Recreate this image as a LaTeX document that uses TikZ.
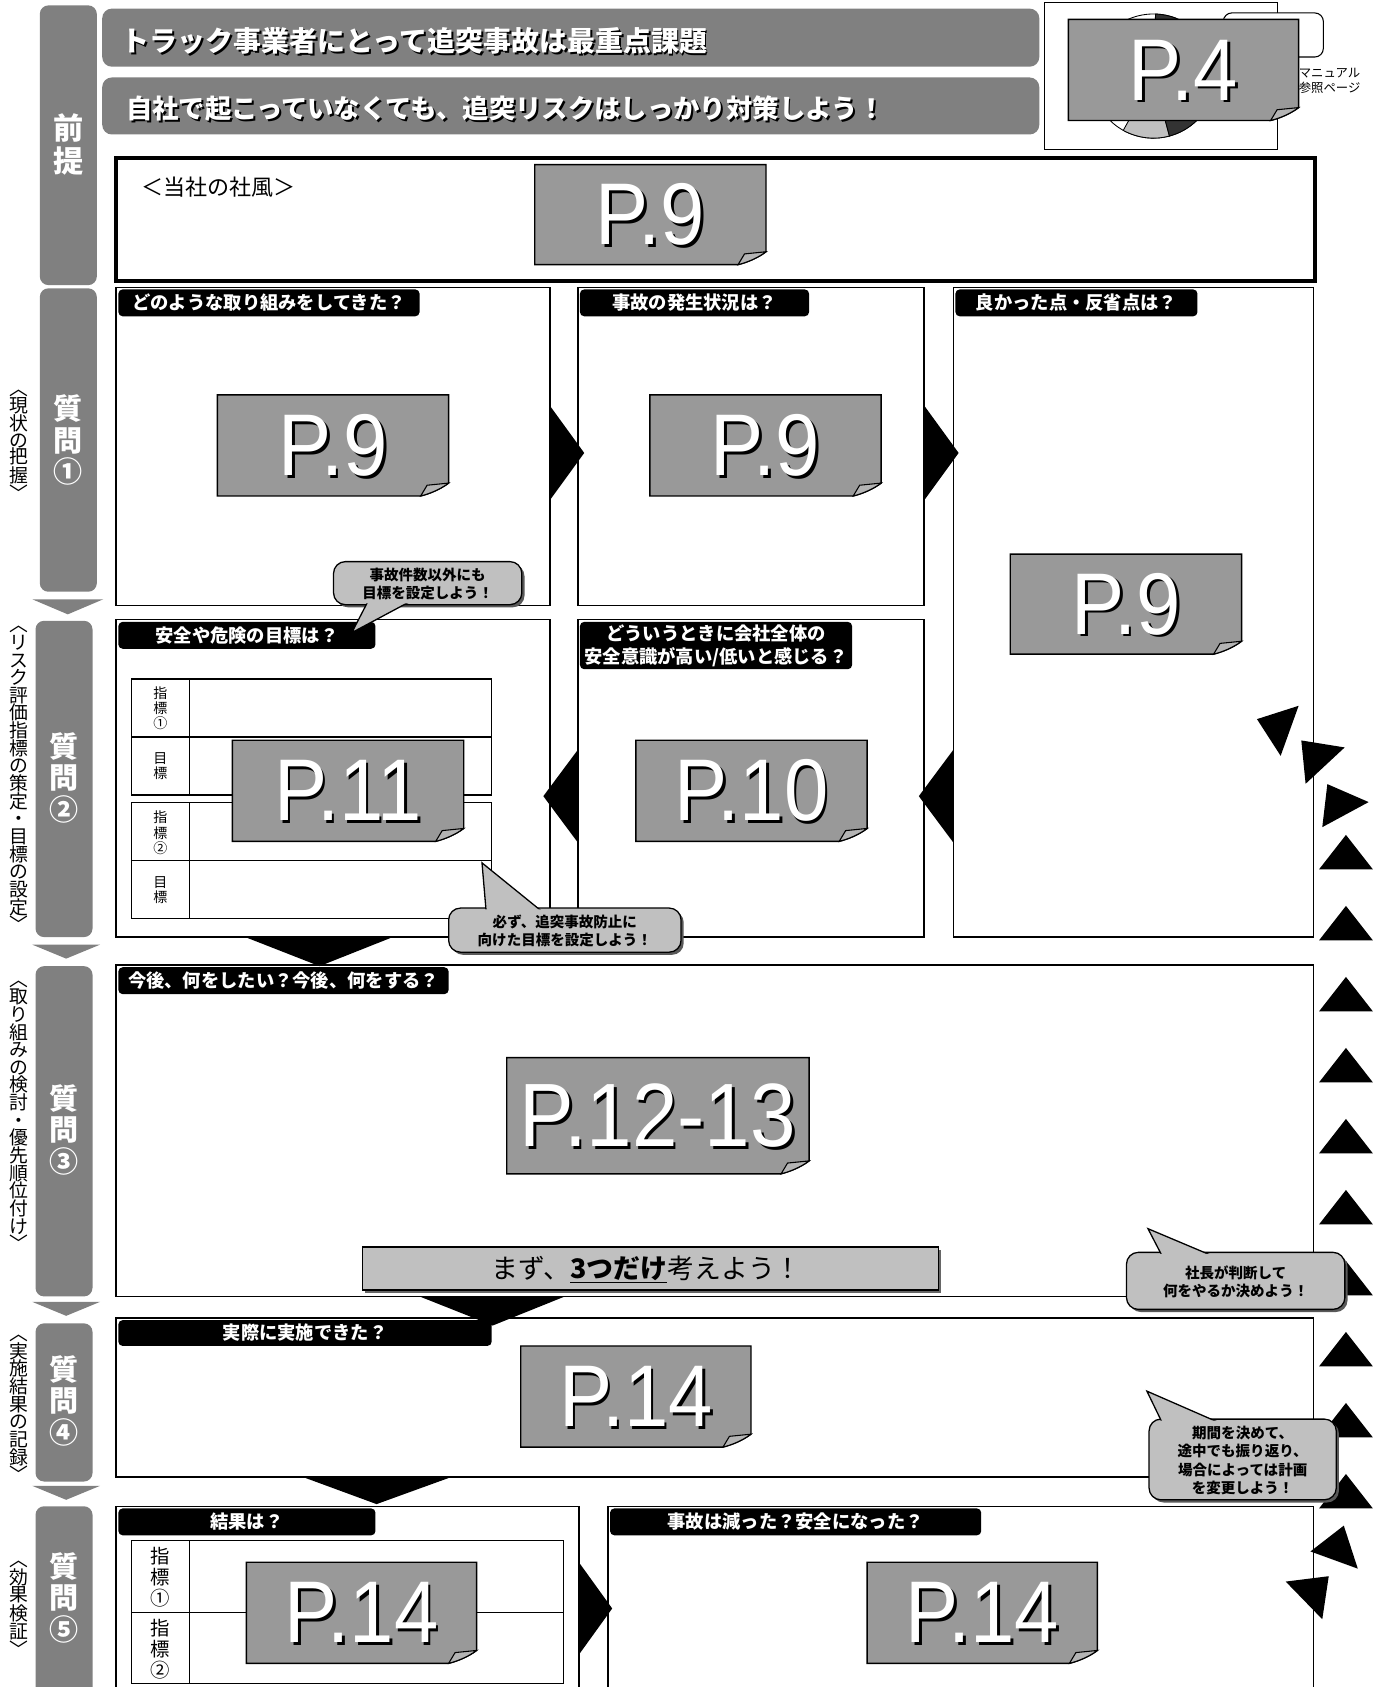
\documentclass[tikz,border=0pt]{standalone}
\usepackage{fontspec}
\setmainfont{Liberation Sans}
\newfontfamily\jp{Noto Sans CJK JP}
\usetikzlibrary{fit}
\definecolor{bargray}{HTML}{808080}
\definecolor{pgray}{HTML}{999999}
\definecolor{foldgray}{HTML}{B4B4B4}
\definecolor{cgray}{HTML}{C0C0C0}
\definecolor{piedark}{HTML}{333333}
\tikzset{
  secbox/.style={draw=black, line width=1.4, inner sep=0, outer sep=0},
  ptext/.style={text=white, inner sep=0, font=\fontsize{74}{74}\selectfont},
  tabtext/.style={text=white, inner sep=0, align=center, font=\jp\bfseries\fontsize{17}{21}\selectfont},
  calltext/.style={inner sep=0, align=center, font=\jp\bfseries\fontsize{13.5}{17}\selectfont},
  bartext/.style={text=white, inner sep=0, align=center, font=\jp\bfseries\fontsize{27}{29.5}\selectfont},
  sidetext/.style={inner sep=0, align=center, font=\jp\fontsize{17.5}{16.4}\selectfont},
  lbltext/.style={inner sep=0, align=center, font=\jp\fontsize{13}{14}\selectfont},
  bantext/.style={anchor=west, inner sep=0},
}
% P-note: name, x1, y1, x2, y2, text
\newcommand\mypnote[6]{%
  \filldraw[fill=pgray,draw=black,line width=1.3]
    (#2,#3) -- (#4,#3) -- ({#4},{#5-12})
    .. controls ({#4-8},{#5-6}) and ({#4-18},{#5-2}) .. ({#4-26},{#5})
    -- (#2,#5) -- cycle;
  \filldraw[fill=foldgray,draw=black,line width=1]
    ({#4-26},{#5}) .. controls ({#4-23},{#5-5}) .. ({#4-20},{#5-10})
    -- ({#4},{#5-12})
    .. controls ({#4-8},{#5-6}) and ({#4-18},{#5-2}) .. ({#4-26},{#5}) -- cycle;
  \node[ptext,text=black] at ({(#2+#4)/2+2.5},{(#3+#5)/2+2.5}) {\scalebox{1}[1.1]{#6}};
  \node[ptext] (#1) at ({(#2+#4)/2},{(#3+#5)/2}) {\scalebox{1}[1.1]{#6}};
}
% header tab: name, x1, y1, x2, y2, text
\newcommand\mytab[6]{%
  \fill[black, rounded corners=4] (#2,#3) rectangle (#4,#5);
  \node[tabtext] (#1) at ({(#2+#4)/2},{(#3+#5)/2}) {#6};
}
% callout: name, x1, y1, x2, y2, tip, base1, base2, text
\newcommand\mycallout[9]{%
  \fill[black!65, rounded corners=11] ({#2+2.5},{#3+2.5}) rectangle ({#4+2.5},{#5+2.5});
  \filldraw[fill=cgray, draw=black, line width=1.2, rounded corners=11] (#2,#3) rectangle (#4,#5);
  \filldraw[fill=cgray, draw=black, line width=1.2] #7 -- #6 -- #8;
  \fill[cgray, rounded corners=10] ({#2+1.3},{#3+1.3}) rectangle ({#4-1.3},{#5-1.3});
  \node[calltext] (#1) at ({(#2+#4)/2},{(#3+#5)/2+1}) {#9};
}
\begin{document}
\begin{tikzpicture}[x=1pt,y=-1pt]
\useasboundingbox (0,0) rectangle (1286,1568);
\clip (0,0) rectangle (1286,1568);
\fill[white] (0,0) rectangle (1286,1568);

% ---------- left column bars ----------
\fill[bargray, rounded corners=8] (37,5) rectangle (90,265);
\node[bartext, font=\jp\bfseries\fontsize{28}{31}\selectfont] (lb0) at (63.5,134.5) {前\\提};
\fill[bargray, rounded corners=8] (37,268) rectangle (90,550);
\node[bartext] (lb1) at (63.5,409) {質\\問\\①};
\fill[bargray, rounded corners=8] (33,577) rectangle (86,871);
\node[bartext] (lb2) at (59.5,723) {質\\問\\②};
\fill[bargray, rounded corners=8] (33,898) rectangle (86,1205);
\node[bartext] (lb3) at (59.5,1050) {質\\問\\③};
\fill[bargray, rounded corners=8] (33,1230) rectangle (86,1377);
\node[bartext] (lb4) at (59.5,1302) {質\\問\\④};
\fill[bargray, rounded corners=8] (33,1400) rectangle (86,1600);
\node[bartext] (lb5) at (59.5,1485) {質\\問\\⑤};

\fill[bargray] (30,557) -- (96,557) -- (63,571) -- cycle;
\fill[bargray] (30,878) -- (93,878) -- (61.5,891) -- cycle;
\fill[bargray] (30,1210) -- (93,1210) -- (61.5,1223) -- cycle;
\fill[bargray] (30,1381) -- (93,1381) -- (61.5,1394) -- cycle;

\node[sidetext, font=\jp\fontsize{17.5}{15.3}\selectfont] (s1) at (18,414) {︿\\現\\状\\の\\把\\握\\﹀};
\node[sidetext] (s2) at (18,724) {︿\\リ\\ス\\ク\\評\\価\\指\\標\\の\\策\\定\\・\\目\\標\\の\\設\\定\\﹀};
\node[sidetext] (s3) at (18,1037) {︿\\取\\り\\組\\み\\の\\検\\討\\・\\優\\先\\順\\位\\付\\け\\﹀};
\node[sidetext] (s4) at (18,1309) {︿\\実\\施\\結\\果\\の\\記\\録\\﹀};
\node[sidetext, font=\jp\fontsize{17.5}{15.3}\selectfont] (s5) at (18,1495) {︿\\効\\果\\検\\証\\﹀};

% ---------- top banners ----------
\fill[bargray, rounded corners=9] (95,8) rectangle (966,62);
\fill[bargray, rounded corners=9] (95,72) rectangle (966,125);
\node[bantext, text=black, font=\jp\bfseries\fontsize{26}{26}\selectfont] at (114.8,39.8) {トラック事業者にとって追突事故は最重点課題};
\node[bantext, text=white, font=\jp\bfseries\fontsize{26}{26}\selectfont] (ban1) at (113,38) {トラック事業者にとって追突事故は最重点課題};
\node[bantext, text=black, font=\jp\bfseries\fontsize{24.5}{24.5}\selectfont] at (118.8,102.8) {自社で起こっていなくても、追突リスクはしっかり対策しよう！};
\node[bantext, text=white, font=\jp\bfseries\fontsize{24.5}{24.5}\selectfont] (ban2) at (117,101) {自社で起こっていなくても、追突リスクはしっかり対策しよう！};

% ---------- top-right reference box ----------
\filldraw[fill=white, draw=black, line width=0.8] (971,2) rectangle (1187,139);
\filldraw[fill=white, draw=black, line width=0.8] (1072,70.7) circle[radius=57.7];
\filldraw[fill=cgray, draw=black, line width=0.8] (1072,70.7) -- ++(75:57.7) arc[start angle=75, end angle=119, radius=57.7] -- cycle;
\filldraw[fill=piedark, draw=black, line width=0.8] (1072,70.7) -- ++(20:57.7) arc[start angle=20, end angle=75, radius=57.7] -- cycle;
\filldraw[fill=piedark, draw=black, line width=0.8] (1072,70.7) -- ++(-88:57.7) arc[start angle=-88, end angle=-68, radius=57.7] -- cycle;
\filldraw[fill=white, draw=black, line width=1] (1137,12) [rounded corners=8] rectangle (1230,53);
\mypnote{p4}{993}{18}{1207}{112}{P.4}
\node[anchor=west, align=left, inner sep=0, font=\jp\fontsize{11.5}{14}\selectfont] (manual) at (1207,75) {マニュアル\\参照ページ};

% ---------- company culture frame ----------
\node[draw=black, line width=4, inner sep=0, outer sep=0, fit={(108,147) (1222,261)}] (fuu) {};
\node[inner sep=0, font=\jp\fontsize{20.5}{20.5}\selectfont] (fuutxt) at (203,174) {＜当社の社風＞};

% ---------- section boxes ----------
\node[secbox, fit={(108,267) (511,563)}] (q1a) {};
\node[secbox, fit={(537,267) (859,563)}] (q1b) {};
\node[secbox, fit={(886,267) (1221,871)}] (q1c) {};
\node[secbox, fit={(108,576) (511,871)}] (q2a) {};
\node[secbox, fit={(537,576) (859,871)}] (q2b) {};
\node[secbox, fit={(108,897) (1221,1205)}] (q3) {};
\node[secbox, fit={(108,1225) (1221,1373)}] (q4) {};
\node[secbox, fit={(108,1400) (538,1600)}] (q5a) {};
\node[secbox, fit={(565,1400) (1221,1600)}] (q5b) {};

% ---------- tables ----------
\draw[line width=1.2] (122,631) rectangle (457,739);
\draw[line width=1.2] (122,685) -- (457,685);
\draw[line width=1.2] (176,631) -- (176,739);
\draw[line width=1.2] (122,746) rectangle (457,854);
\draw[line width=1.2] (122,800) -- (457,800);
\draw[line width=1.2] (176,746) -- (176,854);
\node[lbltext] (r1) at (149,658) {指\\標\\①};
\node[lbltext] (r2) at (149,712) {目\\標};
\node[lbltext] (r3) at (149,774) {指\\標\\②};
\node[lbltext] (r4) at (149,827) {目\\標};

\draw[line width=1.2] (122,1432) rectangle (524,1565);
\draw[line width=1.2] (122,1499) -- (524,1499);
\draw[line width=1.2] (176,1432) -- (176,1565);
\node[lbltext, font=\jp\fontsize{18}{19.5}\selectfont] (r5) at (149,1466) {指\\標\\①};
\node[lbltext, font=\jp\fontsize{18}{19.5}\selectfont] (r6) at (149,1533) {指\\標\\②};

% ---------- header tabs ----------
\mytab{t1a}{110}{269}{390}{294}{どのような取り組みをしてきた？}
\mytab{t1b}{539}{269}{752}{294}{事故の発生状況は？}
\mytab{t1c}{888}{269}{1113}{294}{良かった点・反省点は？}
\mytab{t2a}{110}{578}{349}{603}{安全や危険の目標は？}
\mytab{t2b}{539}{578}{792}{622}{どういうときに会社全体の\\安全意識が高い/低いと感じる？}
\mytab{t3}{110}{899}{417}{924}{今後、何をしたい？今後、何をする？}
\mytab{t4}{110}{1227}{457}{1251}{実際に実施できた？}
\mytab{t5a}{110}{1402}{349}{1427}{結果は？}
\mytab{t5b}{567}{1402}{912}{1427}{事故は減った？安全になった？}

% ---------- page notes ----------
\mypnote{p9a}{497}{153}{712}{246}{P.9}
\mypnote{p9b}{202}{367}{417}{461}{P.9}
\mypnote{p9c}{604}{367}{819}{461}{P.9}
\mypnote{p9d}{939}{515}{1154}{608}{P.9}
\mypnote{p11}{216}{688}{431}{782}{P.11}
\mypnote{p10}{591}{688}{806}{782}{P.10}
\mypnote{p1213}{471}{983}{752}{1091}{\fontsize{76}{76}\selectfont P.12-13}
\mypnote{p14a}{484}{1251}{698}{1345}{P.14}
\mypnote{p14b}{229}{1452}{443}{1546}{P.14}
\mypnote{p14c}{806}{1452}{1020}{1546}{P.14}

% ---------- "only three" bar ----------
\fill[black!60] (339.5,1161.5) rectangle (874.5,1201.5);
\filldraw[fill=cgray, draw=black, line width=1.2] (337,1159) rectangle (872,1199);
\node[inner sep=0, font=\jp\fontsize{25}{25}\selectfont] (mazu) at (601,1180) {まず、\underline{\textbf{3つだけ}}考えよう！};

% ---------- flow arrows between boxes ----------
\fill (511,377) -- (543,421) -- (511,465) -- cycle;
\fill (859,377) -- (891,421) -- (859,465) -- cycle;
\fill (537,697) -- (505,740) -- (537,783) -- cycle;
\fill (886,697) -- (854,740) -- (886,783) -- cycle;
\fill (228,871) -- (365,871) -- (297,898) -- cycle;
\fill (390,1205) -- (525,1205) -- (458,1232) -- cycle;
\fill (282,1373) -- (419,1373) -- (350,1398) -- cycle;
\fill (538,1452) -- (569,1495) -- (538,1538) -- cycle;

% ---------- feedback arc of triangles ----------
\fill (1168.3,668.4) -- (1207,656) -- (1190.3,702.5) -- cycle;
\fill (1209.5,688.2) -- (1249.8,694.7) -- (1213.5,728.5) -- cycle;
\fill (1233.7,728.8) -- (1272.1,745.5) -- (1229.0,768.8) -- cycle;
\foreach \k in {0,...,9}{
  \fill ({1251},{776+66*\k}) -- ({1276},{808+66*\k}) -- ({1226},{808+66*\k}) -- cycle;
}
\fill (1249,1418) -- (1262,1458) -- (1218,1442) -- cycle;
\fill (1235,1465) -- (1229,1505) -- (1195,1470) -- cycle;

% ---------- callouts ----------
\mycallout{c1}{310}{522}{485}{562}{(327,588)}{(343,557)}{(385,557)}{事故件数以外にも\\目標を設定しよう！}
\mycallout{c2}{417}{844}{633}{885}{(448,802)}{(452,849)}{(506,849)}{必ず、追突事故防止に\\向けた目標を設定しよう！}
\mycallout{c3}{1047}{1164}{1250}{1217}{(1067,1142)}{(1081,1169)}{(1131,1169)}{社長が判断して\\何をやるか決めよう！}
\mycallout{c4}{1068}{1319}{1242}{1394}{(1066,1293)}{(1081,1324)}{(1137,1324)}{期間を決めて、\\途中でも振り返り、\\場合によっては計画\\を変更しよう！}
\end{tikzpicture}
\end{document}
